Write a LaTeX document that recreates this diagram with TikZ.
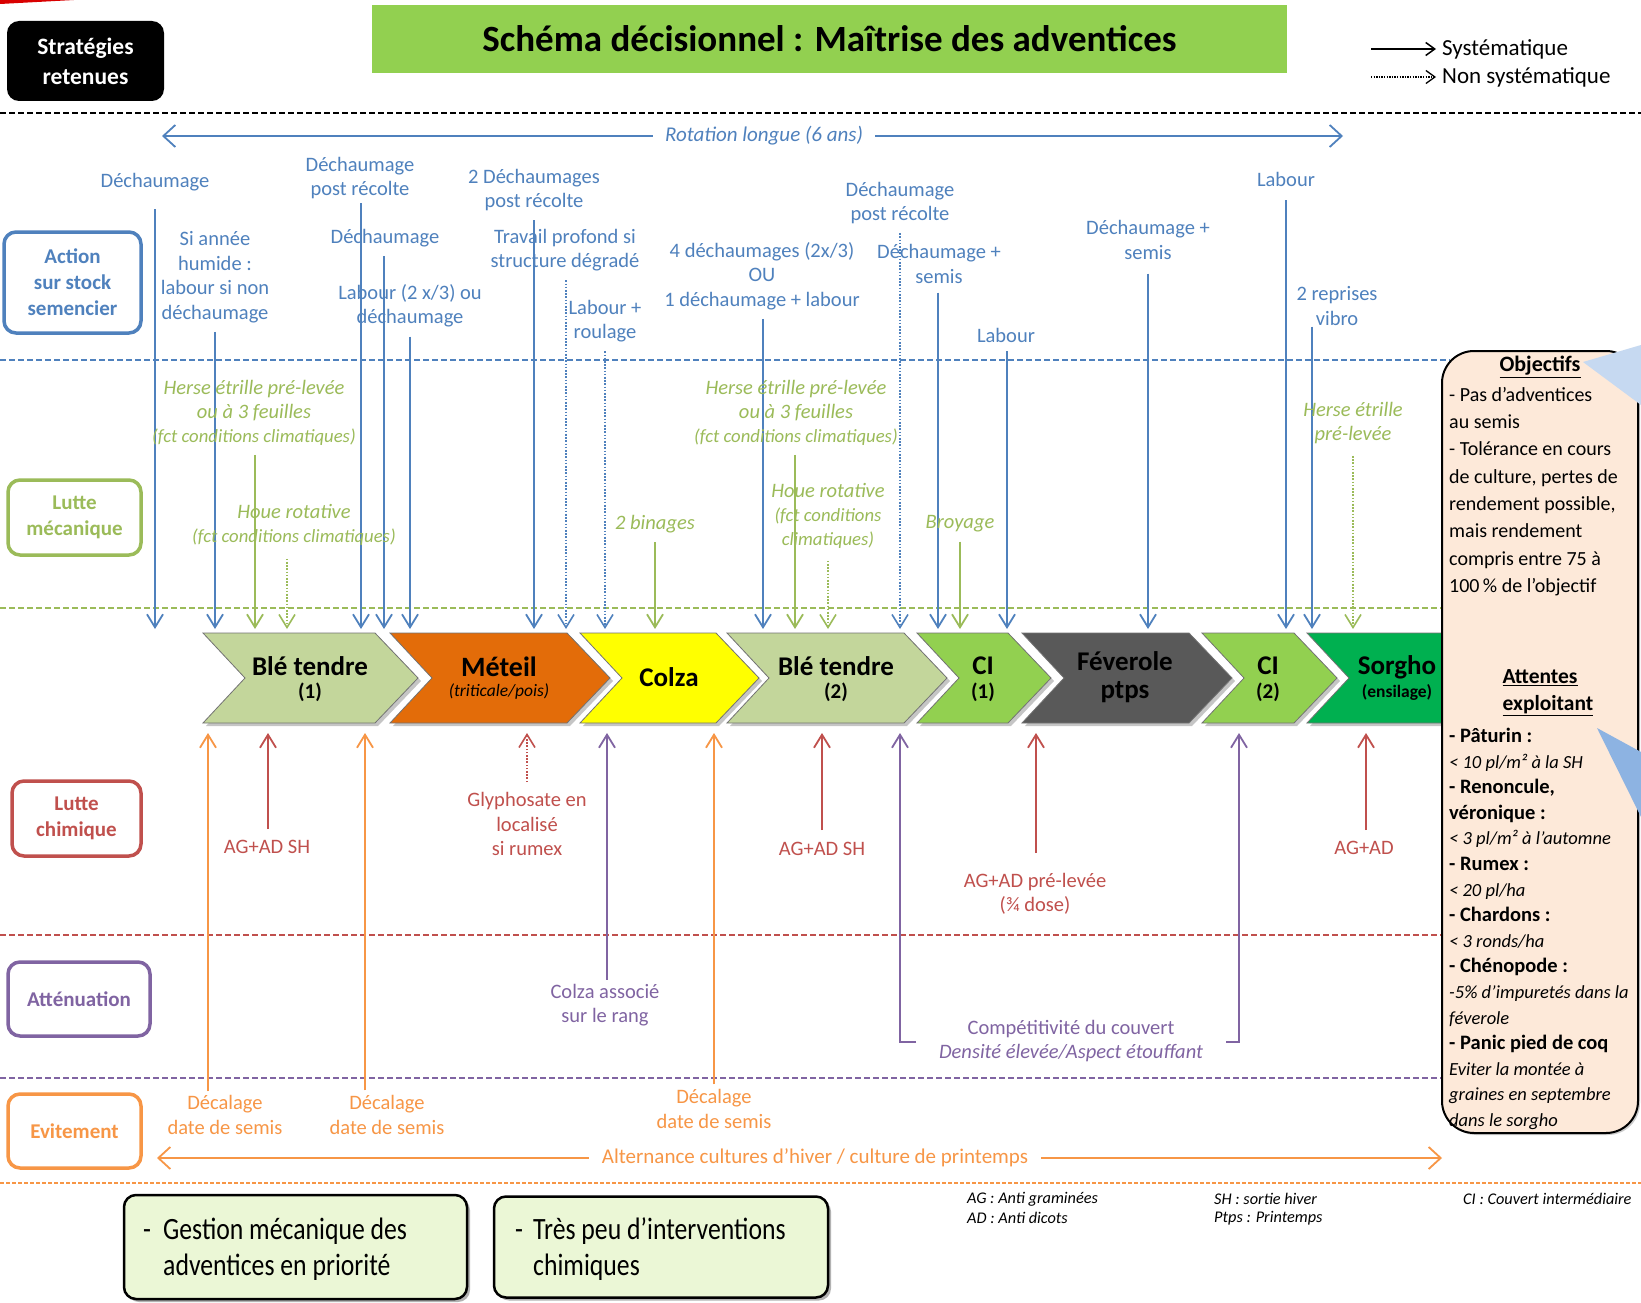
\documentclass[tikz,border=0pt]{standalone}
\usepackage{fontspec}
\setmainfont{Carlito}
\newfontfamily\narrowfont[FakeStretch=0.83]{Carlito}
\usetikzlibrary{arrows.meta,shadows}

\newcommand\setfs[2]{\fontsize{#1}{#2}\selectfont}

\definecolor{cblue}{HTML}{4F81BD}
\definecolor{cgreen}{HTML}{9BBB59}
\definecolor{cred}{HTML}{C0504D}
\definecolor{cpurple}{HTML}{8064A2}
\definecolor{corange}{HTML}{F79646}
\definecolor{titlegreen}{HTML}{92D050}
\definecolor{blecol}{HTML}{C3D69B}
\definecolor{meteilcol}{HTML}{E36C09}
\definecolor{colzacol}{HTML}{FFFF00}
\definecolor{cicol}{HTML}{92D050}
\definecolor{fevecol}{HTML}{595959}
\definecolor{sorghocol}{HTML}{00B050}
\definecolor{peach}{HTML}{FDE9D9}
\definecolor{palegreen}{HTML}{EBF7D6}
\definecolor{calloutA}{HTML}{C6D9F1}
\definecolor{calloutB}{HTML}{8DB3E2}

% chevron of one crop: left x, right x, fill colour
\newcommand\cropshape[3]{%
  \path[chev,fill=#3] (#1,633) -- (#2,633) -- ({#2+43},678) -- (#2,723)
    -- (#1,723) -- ({#1+42},678) -- cycle;}

\begin{document}
\begin{tikzpicture}[x=1pt,y=-1pt,
  lab/.style={align=center,inner sep=1pt,font=\setfs{20.5}{24.5}},
  bl/.style={lab,text=cblue},
  gl/.style={lab,text=cgreen,font=\setfs{20.5}{24}\itshape},
  rl/.style={lab,text=cred},
  pl/.style={lab,text=cpurple},
  ol/.style={lab,text=corange},
  arr/.style={line width=1.8pt,-{Straight Barb[length=13pt,width=16pt]},shorten <=8pt},
  dotarr/.style={arr,line width=1.6pt,dash pattern=on 1.6pt off 1.6pt},
  sep/.style={line width=2pt,dash pattern=on 6pt off 3pt},
  legbox/.style={draw=#1,text=#1,line width=3.5pt,rounded corners=12pt,fill=white,
    align=center,font=\bfseries\setfs{21}{26}},
  chev/.style={draw=black!55,line width=0.8pt,
    drop shadow={shadow xshift=3pt,shadow yshift=-3pt,opacity=0.45}},
  ct/.style={inner sep=0pt,font=\bfseries\setfs{27}{30}},
  cs/.style={inner sep=0pt,font=\bfseries\setfs{21}{24}},
  foot/.style={anchor=west,inner sep=0pt,font=\setfs{16.3}{19}\itshape},
  gbox/.style={draw=black,line width=2.5pt,fill=palegreen,rounded corners=12pt,
    drop shadow={shadow xshift=3pt,shadow yshift=-3pt,opacity=0.6}},
  itl/.style={},
]
\useasboundingbox (0,0) rectangle (1641,1303);
\fill[white] (0,0) rectangle (1641,1303);
\fill[red!85!black] (0,0) -- (74,0) -- (0,4) -- cycle;

% ---------- header ----------
\node[fill=black,rounded corners=12pt,text=white,font=\bfseries\setfs{23.5}{30},
  align=center,minimum width=157pt,minimum height=80pt] (strat) at (85.5,61) {Stratégies\\retenues};
\node[fill=titlegreen,minimum width=915pt,minimum height=68pt,
  font=\bfseries\setfs{37}{40}] (title) at (829.5,39) {Schéma décisionnel : Maîtrise des adventices};

\node[anchor=west,inner sep=0pt,font=\setfs{23}{26}] (sys) at (1442,49) {Systématique};
\node[anchor=west,inner sep=0pt,font=\setfs{23}{26}] (nsys) at (1442,77) {Non systématique};
\coordinate (ls1) at (1371,49);
\coordinate (ls2) at (1371,77);
\draw[line width=1.5pt,-{Straight Barb[length=9pt,width=13pt]}] (ls1) -- ([xshift=-6pt]sys.west);
\draw[line width=1.3pt,dash pattern=on 1.3pt off 1.3pt,-{Straight Barb[length=9pt,width=13pt]}] (ls2) -- ([xshift=-6pt]nsys.west);

% ---------- band separators ----------
\draw[sep,black] (0,113) -- (1641,113);
\draw[sep,cblue] (0,360) -- (1450,360);
\draw[sep,cgreen] (0,608) -- (1450,608);
\draw[sep,cred] (0,935) -- (1450,935);
\draw[sep,cpurple] (0,1078) -- (1450,1078);
\draw[line width=2pt,dash pattern=on 4pt off 2pt,corange] (0,1183) -- (1641,1183);

% ---------- band titles ----------
\node[legbox=cblue,minimum width=137pt,minimum height=101pt] (act) at (72.5,282.5) {Action\\sur stock\\semencier};
\node[legbox=cgreen,minimum width=133pt,minimum height=75pt] (mec) at (74.5,517.5) {Lutte\\mécanique};
\node[legbox=cred,minimum width=129pt,minimum height=75pt] (chi) at (76.5,818.5) {Lutte\\chimique};
\node[legbox=cpurple,minimum width=142pt,minimum height=74pt] (att) at (79,999) {Atténuation};
\node[legbox=corange,minimum width=133pt,minimum height=74pt] (evi) at (74.5,1131) {Evitement};

% ---------- rotation arrow ----------
\coordinate (tt) at (0,629);
\coordinate (bt) at (0,733);
\coordinate (rotL) at (162,136);
\coordinate (rotR) at (1343,136);
\node[inner sep=0pt,text=cblue,font=\setfs{21}{24}\itshape] (rot) at (764,136) {Rotation longue (6 ans)};
\draw[arr,cblue,line width=1.8pt,shorten <=12pt,-{Straight Barb[length=12pt,width=22pt]}] (rot.west) -- (rotL);
\draw[arr,cblue,line width=1.8pt,shorten <=12pt,-{Straight Barb[length=12pt,width=22pt]}] (rot.east) -- (rotR);

% ---------- soil work (blue) ----------
\node[bl] (b1) at (155,182) {Déchaumage};
\node[bl] (b2) at (215,277) {Si année\\humide :\\labour si non\\déchaumage};
\node[bl] (b3) at (360,178) {Déchaumage\\post récolte};
\node[bl] (b4) at (385,238) {Déchaumage};
\node[bl] (b5) at (410,306) {Labour (2 x/3) ou\\déchaumage};
\node[bl] (b6) at (534,190) {2 Déchaumages\\post récolte};
\node[bl] (b7) at (565,250) {Travail profond si\\structure dégradé};
\node[bl] (b8) at (605,321) {Labour +\\roulage};
\node[bl] (b9) at (762,276) {4 déchaumages (2x/3)\\OU\\1 déchaumage + labour};
\node[bl] (b10) at (900,203) {Déchaumage\\post récolte};
\node[bl] (b11) at (939,264) {Déchaumage +\\semis};
\node[bl] (b12) at (1006,335) {Labour};
\node[bl] (b13) at (1148,240) {Déchaumage +\\semis};
\node[bl] (b14) at (1286,179) {Labour};
\node[bl] (b15) at (1337,306) {2 reprises\\vibro};

\draw[arr,cblue,shorten <=17pt] (b1.south) -- (b1.south |- tt);
\draw[arr,cblue] (b2.south) -- (b2.south |- tt);
\draw[arr,cblue,shorten <=3pt] ([xshift=1pt]b3.south) -- ([xshift=1pt]b3.south |- tt);
\draw[arr,cblue] ([xshift=-1pt]b4.south) -- ([xshift=-1pt]b4.south |- tt);
\draw[arr,cblue] (b5.south) -- (b5.south |- tt);
\draw[arr,cblue] (b6.south) -- (b6.south |- tt);
\draw[dotarr,cblue] ([xshift=1pt]b7.south) -- ([xshift=1pt]b7.south |- tt);
\draw[dotarr,cblue] (b8.south) -- (b8.south |- tt);
\draw[arr,cblue] ([xshift=1pt]b9.south) -- ([xshift=1pt]b9.south |- tt);
\draw[dotarr,cblue] (b10.south) -- (b10.south |- tt);
\draw[arr,cblue] ([xshift=-1pt]b11.south) -- ([xshift=-1pt]b11.south |- tt);
\draw[arr,cblue] ([xshift=1pt]b12.south) -- ([xshift=1pt]b12.south |- tt);
\draw[arr,cblue,shorten <=13pt] (b13.south) -- (b13.south |- tt);
\draw[arr,cblue,shorten <=13pt] (b14.south) -- (b14.south |- tt);
\draw[arr,cblue,shorten <=0pt] ([xshift=-25pt]b15.south) -- ([xshift=-25pt]b15.south |- tt);

% ---------- mechanical weeding (green) ----------
\node[gl] (g1) at (254,413) {Herse étrille pré-levée\\ou à 3 feuilles\\{\setfs{18.7}{24}(fct conditions climatiques)}};
\node[gl] (g2) at (294,525) {Houe rotative\\{\setfs{18.7}{23}(fct conditions climatiques)}};
\node[gl] (g3) at (655,524) {2 binages};
\node[gl] (g4) at (796,413) {Herse étrille pré-levée\\ou à 3 feuilles\\{\setfs{18.7}{24}(fct conditions climatiques)}};
\node[gl] (g5) at (828,516) {Houe rotative\\{\setfs{18.7}{22.5}(fct conditions}\\{\setfs{18.7}{22.5}climatiques)}};
\node[gl] (g6) at (960,524) {Broyage};
\node[gl] (g7) at (1353,423) {Herse étrille\\pré-levée};

\draw[arr,cgreen] ([xshift=1pt]g1.south) -- ([xshift=1pt]g1.south |- tt);
\draw[dotarr,cgreen,shorten <=12pt] ([xshift=-7pt]g2.south) -- ([xshift=-7pt]g2.south |- tt);
\draw[arr,cgreen] (g3.south) -- (g3.south |- tt);
\draw[arr,cgreen] ([xshift=-1pt]g4.south) -- ([xshift=-1pt]g4.south |- tt);
\draw[dotarr,cgreen,shorten <=11pt] (g5.south) -- (g5.south |- tt);
\draw[arr,cgreen] (g6.south) -- (g6.south |- tt);
\draw[dotarr,cgreen,shorten <=11pt] (g7.south) -- (g7.south |- tt);

% ---------- crops ----------
\cropshape{203}{375}{blecol}
\cropshape{390}{567}{meteilcol}
\cropshape{580}{716}{colzacol}
\cropshape{727}{904}{blecol}
\cropshape{917}{1008}{cicol}
\cropshape{1022}{1189}{fevecol}
\cropshape{1202}{1294}{cicol}
\cropshape{1307}{1443}{sorghocol}

\node[ct] (c1) at (310,666) {Blé tendre};
\node[cs] (c1n) at (310,692) {(1)};
\node[ct,font=\bfseries\setfs{28}{30}] (c2) at (499,667) {Méteil};
\node[inner sep=0pt,font=\setfs{17.5}{20}\itshape] (c2n) at (499,692) {(triticale/pois)};
\node[ct] (c3) at (669,677) {Colza};
\node[ct] (c4) at (836,666) {Blé tendre};
\node[cs] (c4n) at (836,692) {(2)};
\node[ct] (c5) at (983,666) {CI};
\node[cs] (c5n) at (983,692) {(1)};
\node[ct] (c6) at (1125,661) {Féverole};
\node[ct] (c6n) at (1125,692) {ptps};
\node[ct] (c7) at (1268,666) {CI};
\node[cs] (c7n) at (1268,692) {(2)};
\node[ct] (c8) at (1397,667) {Sorgho};
\node[cs,font=\bfseries\setfs{17.5}{20}] (c8n) at (1397,692) {(ensilage)};

% ---------- chemical control (red) ----------
\node[rl] (r1) at (267,847) {AG+AD SH};
\node[rl] (r2) at (527,824) {Glyphosate en\\localisé\\si rumex};
\node[rl] (r3) at (822,849) {AG+AD SH};
\node[rl] (r4) at (1035,894) {AG+AD pré-levée\\(¾ dose)};
\node[rl] (r5) at (1364,848) {AG+AD};

\draw[arr,cred,shorten <=10pt] ([xshift=1pt]r1.north) -- ([xshift=1pt]r1.north |- bt);
\draw[dotarr,cred,shorten <=9pt] (r2.north) -- (r2.north |- bt);
\draw[arr,cred,shorten <=11pt] (r3.north) -- (r3.north |- bt);
\draw[arr,cred,shorten <=19pt] ([xshift=1pt]r4.north) -- ([xshift=1pt]r4.north |- bt);
\draw[arr,cred,shorten <=10pt] ([xshift=2pt]r5.north) -- ([xshift=2pt]r5.north |- bt);

% ---------- mitigation (purple) ----------
\node[pl] (p1) at (605,1005) {Colza associé\\sur le rang};
\node[pl] (p2) at (1071,1041) {Compétitivité du couvert\\\textit{Densité élevée/Aspect étouffant}};
\draw[arr,cpurple,shorten <=3pt] ([xshift=2pt]p1.north) -- ([xshift=2pt]p1.north |- bt);
\draw[arr,cpurple,shorten <=0pt] ([xshift=-155pt,yshift=-1pt]p2.center) -- ++(-16,0) coordinate (pa) -- (pa |- bt);
\draw[arr,cpurple,shorten <=0pt] ([xshift=155pt,yshift=-1pt]p2.center) -- ++(13,0) coordinate (pb) -- (pb |- bt);

% ---------- avoidance (orange) ----------
\node[ol] (o1) at (225,1115) {Décalage\\date de semis};
\node[ol] (o2) at (387,1115) {Décalage\\date de semis};
\node[ol] (o3) at (714,1109) {Décalage\\date de semis};
\draw[arr,corange,shorten <=3pt] ([xshift=-17pt]o1.north) -- ([xshift=-17pt]o1.north |- bt);
\draw[arr,corange,shorten <=4pt] ([xshift=-22pt]o2.north) -- ([xshift=-22pt]o2.north |- bt);
\draw[arr,corange,shorten <=4pt] (o3.north) -- (o3.north |- bt);

\coordinate (altL) at (157,1158);
\coordinate (altR) at (1442,1158);
\node[ol,font=\setfs{21}{24}] (o4) at (815,1158) {Alternance cultures d’hiver / culture de printemps};
\draw[arr,corange,shorten <=12pt,-{Straight Barb[length=12pt,width=22pt]}] (o4.west) -- (altL);
\draw[arr,corange,shorten <=12pt,-{Straight Barb[length=12pt,width=22pt]}] (o4.east) -- (altR);

% ---------- objectives panel ----------
\node[draw=black,line width=2pt,fill=peach,rounded corners=32pt,
  minimum width=196pt,minimum height=782pt,
  drop shadow={shadow xshift=2pt,shadow yshift=-2pt,opacity=0.4}] (objbox) at (1540,742) {};
\fill[calloutA] (1583,362) -- (1641,345) -- (1641,405) -- cycle;
\fill[calloutB] (1597,728) -- (1641,752) -- (1641,817) -- cycle;

\node[inner sep=0pt,font=\bfseries\setfs{22}{25}] (objt) at (1540,367) {\underline{Objectifs}};
\node[anchor=north west,align=left,inner sep=0pt,font=\setfs{20}{27.3}] (objx) at (1449,387)
 {- Pas d’adventices\\au semis\\- Tolérance en cours\\de culture, pertes de\\rendement possible,\\mais rendement\\compris entre 75 à\\100\,\% de l’objectif};
\node[inner sep=0pt,font=\bfseries\setfs{21.5}{25}] (attt) at (1540,678) {\underline{Attentes}};
\node[inner sep=0pt,font=\bfseries\setfs{21.5}{25}] (attt2) at (1548,706) {\underline{exploitant}};
\node[anchor=north west,align=left,inner sep=0pt,font=\bfseries\setfs{20.5}{25.6}] (attx) at (1449,728)
 {- Pâturin :\\
  {\mdseries\itshape\setfs{18.5}{25.6}< 10 pl/m² à la SH}\\
  - Renoncule,\\
  véronique :\\
  {\mdseries\itshape\setfs{18.5}{25.6}< 3 pl/m² à l’automne}\\
  - Rumex :\\
  {\mdseries\itshape\setfs{18.5}{25.6}< 20 pl/ha}\\
  - Chardons :\\
  {\mdseries\itshape\setfs{18.5}{25.6}< 3 ronds/ha}\\
  - Chénopode :\\
  {\mdseries\itshape\setfs{18.5}{25.6}-5\% d’impuretés dans la}\\
  {\mdseries\itshape\setfs{18.5}{25.6}féverole}\\
  - Panic pied de coq\\
  {\mdseries\itshape\setfs{18.5}{25.6}Eviter la montée à}\\
  {\mdseries\itshape\setfs{18.5}{25.6}graines en septembre}\\
  {\mdseries\itshape\setfs{18.5}{25.6}dans le sorgho}};

% ---------- footer ----------
\node[gbox,minimum width=343pt,minimum height=104pt] (gb1) at (295.5,1247) {};
\node[gbox,minimum width=334pt,minimum height=101pt] (gb2) at (661,1247) {};
\node[anchor=west,align=left,inner sep=0pt,font=\narrowfont\setfs{31}{36}] (gt1) at (143,1249)
 {\makebox[20pt][l]{-}Gestion mécanique des\\\hspace*{20pt}adventices en priorité};
\node[anchor=west,align=left,inner sep=0pt,font=\narrowfont\setfs{31}{36}] (gt2) at (515,1249)
 {\makebox[18pt][l]{-}Très peu d’interventions\\\hspace*{18pt}chimiques};

\node[foot] (f1) at (967,1199) {AG : Anti graminées};
\node[foot] (f2) at (967,1218) {AD : Anti dicots};
\node[foot] (f3) at (1214,1199) {SH : sortie hiver};
\node[foot] (f4) at (1214,1218) {Ptps : Printemps};
\node[foot] (f5) at (1463,1199) {CI : Couvert intermédiaire};
\end{tikzpicture}
\end{document}
